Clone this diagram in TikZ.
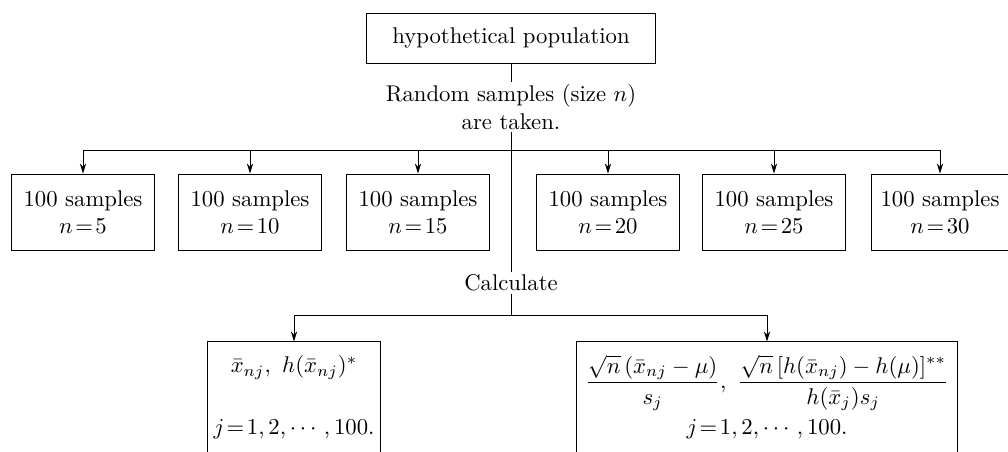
\documentclass[tikz,border=0pt]{standalone}
\usepackage{amsmath}
\usepackage{amssymb}
\usetikzlibrary{
  arrows.meta,
  positioning
}
\tikzset{
  popbox/.style={draw, line width=0.4pt, minimum width=127pt, minimum height=22pt, inner sep=0pt},
  samplebox/.style={draw, line width=0.4pt, align=center, minimum height=33.4pt, inner sep=0pt},
  calcbox/.style={align=center, inner sep=0pt, minimum height=48.4pt},
  link/.style={line width=0.4pt},
  drop/.style={line width=0.4pt, -{Stealth[length=4.5pt, width=2.8pt]}}
}

\begin{document}
\begin{tikzpicture}[x=0.44pt, y=-0.44pt]
  \useasboundingbox (0,0) rectangle (1008,452);

  % Population and the sampling step
  \node[popbox] (pop) at (511,38) {hypothetical population};
  \node[align=center, inner sep=1pt] (take) at (511,107)
    {Random samples (size $n$)\\are taken.};
  \coordinate (fork) at (511,150);
  \draw[link] (pop) -- (take);
  \draw[link] (take) -- (fork);

  % Six sets of samples
  \foreach \name/\x/\w/\n in {s1/83/63/5, s2/250/63/10, s3/418/63/15,
                              s4/608/63/20, s5/774/63/25, s6/940/60/30}{
    \node[samplebox, minimum width=\w pt] (\name) at (\x,212)
      {100 samples\\$n\!=\!\n$};
    \draw[drop] (\name.north |- fork) -- (\name.north);
  }
  \draw[link] (s1.north |- fork) -- (s6.north |- fork);

  % Calculation step
  \node[inner sep=1pt] (calc) at (511,283) {Calculate};
  \coordinate (fork2) at (511,315);
  \draw[link] (fork) -- (calc);
  \draw[link] (calc) -- (fork2);

  % Results (boxes run off the bottom edge)
  \node[calcbox, minimum width=76pt] (est) at (294,397)
    {$\bar{x}_{nj},\ h(\bar{x}_{nj})^{*}$\\[15pt]$j\!=\!1, 2, \cdots, 100.$};
  \node[calcbox, minimum width=167pt] (stat) at (767,397)
    {$\dfrac{\sqrt{n}\,(\bar{x}_{nj}-\mu)}{s_j},\
      \dfrac{\sqrt{n}\,[h(\bar{x}_{nj})-h(\mu)]^{**}}{h(\bar{x}_j)s_j}$\\[3pt]
     $j\!=\!1, 2, \cdots, 100.$};
  \draw[link] (est.north |- fork2) -- (stat.north |- fork2);
  \foreach \name in {est, stat}{
    \draw[drop] (\name.north |- fork2) -- (\name.north);
    \draw[link] (\name.south west) -- (\name.north west)
      -- (\name.north east) -- (\name.south east);
  }
\end{tikzpicture}
\end{document}
